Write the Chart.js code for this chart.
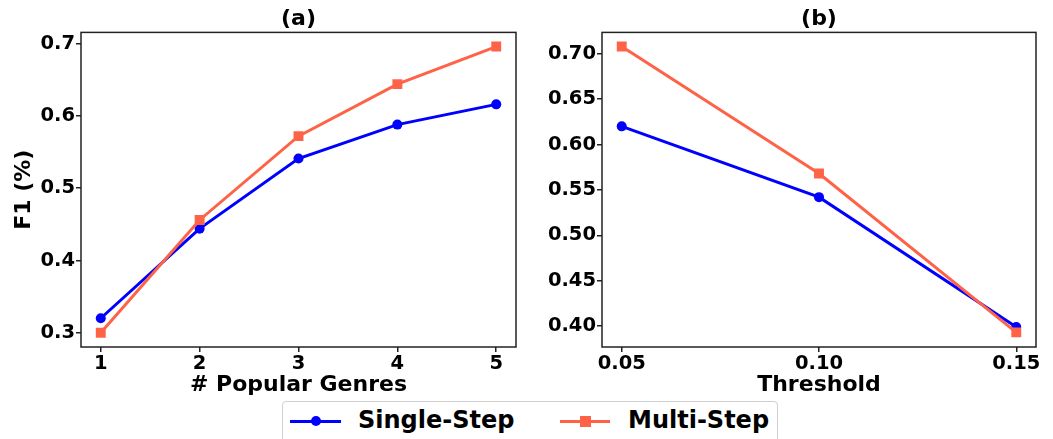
<!DOCTYPE html>
<html>
<head>
<meta charset="utf-8">
<script src="https://cdn.jsdelivr.net/npm/chart.js@4.4.1/dist/chart.umd.min.js"></script>
<style>
  body { margin: 0; background: #fff; }
  #wrap { position: relative; width: 1053px; height: 439px; overflow: hidden; font-family: "DejaVu Sans", sans-serif; }
  canvas { position: absolute; top: 0; }
  #chartA { left: 0; }
  #chartB { left: 530px; }
  .legend {
    position: absolute; left: 282px; top: 401px; width: 494px; height: 50px;
    border: 1px solid #d0d0d0; border-radius: 4px; background: #fff;
  }
  .legend .line { position: absolute; height: 3px; top: 18px; }
  .legend .dot { position: absolute; width: 10px; height: 10px; border-radius: 50%; top: 14px; }
  .legend .sq { position: absolute; width: 11px; height: 11px; top: 14px; }
  .legend .label { position: absolute; top: 4px; font-weight: bold; font-size: 24px; color: #000; white-space: nowrap; }
</style>
</head>
<body>
<div id="wrap">
  <canvas id="chartA" width="530" height="400"></canvas>
  <canvas id="chartB" width="523" height="400"></canvas>
  <div class="legend">
    <div class="line" style="left:7px;width:51px;background:#0000ff"></div>
    <div class="dot" style="left:28px;background:#0000ff"></div>
    <div class="label" style="left:75px">Single-Step</div>
    <div class="line" style="left:277px;width:50px;background:#ff6347"></div>
    <div class="sq" style="left:297px;background:#ff6347"></div>
    <div class="label" style="left:345px">Multi-Step</div>
  </div>
</div>
<script>
// panel (a): number of popular genres
const genres = [1, 2, 3, 4, 5];
const singleStepA = [0.320, 0.444, 0.541, 0.588, 0.616];
const multiStepA = [0.300, 0.456, 0.572, 0.644, 0.696];
const yTicksA = [0.3, 0.4, 0.5, 0.6, 0.7];

// panel (b): threshold
const thresholds = [0.05, 0.10, 0.15];
const singleStepB = [0.620, 0.542, 0.399];
const multiStepB = [0.708, 0.568, 0.393];
const yTicksB = [0.40, 0.45, 0.50, 0.55, 0.60, 0.65, 0.70];

const BLUE = '#0000ff';
const TOMATO = '#ff6347';
const FONT = 'DejaVu Sans';

// matplotlib-style box around the plot area
const framePlugin = {
    id: 'frame',
    afterDraw(chart) {
        const { ctx, chartArea: a } = chart;
        ctx.save();
        ctx.strokeStyle = '#222';
        ctx.lineWidth = 1.5;
        ctx.strokeRect(a.left, a.top, a.right - a.left, a.bottom - a.top);
        ctx.restore();
    }
};

function toPoints(xs, ys) {
    return xs.map((x, i) => ({ x: x, y: ys[i] }));
}

function makePanel(canvasId, opts) {
    const ctx = document.getElementById(canvasId).getContext('2d');
    return new Chart(ctx, {
        type: 'line',
        data: {
            datasets: [
                {
                    label: 'Single-Step',
                    data: toPoints(opts.xs, opts.single),
                    borderColor: BLUE,
                    backgroundColor: BLUE,
                    borderWidth: 3,
                    pointStyle: 'circle',
                    pointRadius: 5,
                    pointBorderWidth: 0,
                    order: 1
                },
                {
                    label: 'Multi-Step',
                    data: toPoints(opts.xs, opts.multi),
                    borderColor: TOMATO,
                    backgroundColor: TOMATO,
                    borderWidth: 3,
                    pointStyle: 'rect',
                    pointRadius: 7,
                    pointBorderWidth: 0,
                    order: 0
                }
            ]
        },
        options: {
            responsive: false,
            animation: false,
            layout: { padding: { left: 0, right: opts.padRight, top: 0, bottom: 0 } },
            plugins: {
                legend: { display: false },
                tooltip: { enabled: false },
                title: {
                    display: true,
                    text: opts.title,
                    fullSize: false,
                    color: '#000',
                    font: { family: FONT, size: 22, weight: 'bold' },
                    padding: { top: 6, bottom: 0 }
                }
            },
            scales: {
                x: {
                    type: 'linear',
                    min: opts.xMin,
                    max: opts.xMax,
                    afterBuildTicks: s => { s.ticks = opts.xs.map(v => ({ value: v })); },
                    afterFit: s => { s.height = 53; },
                    grid: { drawOnChartArea: false, color: '#222', lineWidth: 1.5, tickLength: 5 },
                    border: { display: false },
                    ticks: {
                        color: '#000',
                        padding: 0,
                        maxRotation: 0,
                        font: { family: FONT, size: 19.5, weight: 'bold' },
                        callback: v => opts.xFmt(v)
                    },
                    title: {
                        display: true,
                        text: opts.xTitle,
                        color: '#000',
                        font: { family: FONT, size: 22, weight: 'bold' },
                        padding: { top: 0, bottom: 2 }
                    }
                },
                y: {
                    type: 'linear',
                    min: opts.yMin,
                    max: opts.yMax,
                    afterBuildTicks: s => { s.ticks = opts.yTicks.map(v => ({ value: v })); },
                    afterFit: s => { s.width = opts.yWidth; },
                    grid: { drawOnChartArea: false, color: '#222', lineWidth: 1.5, tickLength: 5 },
                    border: { display: false },
                    ticks: {
                        color: '#000',
                        padding: 1,
                        font: { family: FONT, size: 19.5, weight: 'bold' },
                        callback: v => v.toFixed(opts.yDigits)
                    },
                    title: {
                        display: !!opts.yTitle,
                        text: opts.yTitle,
                        color: '#000',
                        font: { family: FONT, size: 22, weight: 'bold' },
                        padding: { top: 11, bottom: 0 }
                    }
                }
            }
        },
        plugins: [framePlugin]
    });
}

makePanel('chartA', {
    title: '(a)',
    xs: genres, single: singleStepA, multi: multiStepA,
    xMin: 0.8, xMax: 5.2, xFmt: v => String(v), xTitle: '# Popular Genres',
    yMin: 0.2802, yMax: 0.7156, yTicks: yTicksA, yDigits: 1, yTitle: 'F1 (%)',
    yWidth: 81, padRight: 14
});

makePanel('chartB', {
    title: '(b)',
    xs: thresholds, single: singleStepB, multi: multiStepB,
    xMin: 0.045, xMax: 0.155, xFmt: v => v.toFixed(2), xTitle: 'Threshold',
    yMin: 0.3769, yMax: 0.7235, yTicks: yTicksB, yDigits: 2, yTitle: '',
    yWidth: 72, padRight: 17
});
</script>
</body>
</html>
